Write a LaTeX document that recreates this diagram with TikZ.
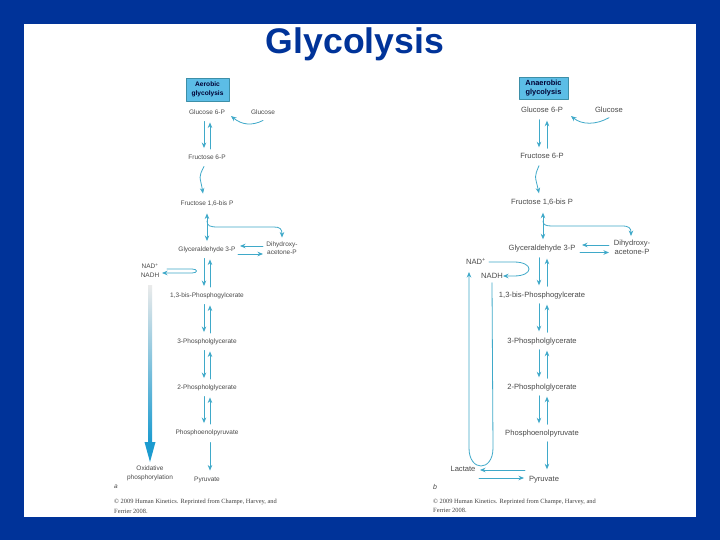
\documentclass[tikz,border=0pt]{standalone}
\usepackage{fontspec}
\setmainfont{Liberation Sans}
\newfontfamily\serifnote{Liberation Serif}
\usetikzlibrary{arrows.meta}
\definecolor{slideblue}{HTML}{003399}
\definecolor{pathblue}{HTML}{3FA9C9}
\definecolor{boxblue}{HTML}{5CBDE6}
\definecolor{boxedge}{HTML}{3D8FA8}
\definecolor{labelgrey}{HTML}{4A4A4A}
\definecolor{bigblue}{HTML}{1C9BCF}
\tikzset{
  lbla/.style={inner sep=0pt,text=labelgrey,align=center,text height=5pt,text depth=1.5pt,font=\fontsize{6.5}{8.5}\selectfont},
  lblb/.style={inner sep=0pt,text=labelgrey,align=center,text height=5.5pt,text depth=1.5pt,font=\fontsize{7.6}{9}\selectfont},
  pathbox/.style={draw=boxedge,fill=boxblue,line width=0.7pt,inner sep=0pt,align=center,text=black!80!blue,font=\bfseries},
  flow/.style={draw=pathblue,line width=0.8pt,-{Stealth[length=5.5pt,width=4.5pt]}},
  flowboth/.style={draw=pathblue,line width=0.8pt,{Stealth[length=5.5pt,width=4.5pt]}-{Stealth[length=5.5pt,width=4.5pt]}},
  credit/.style={inner sep=0pt,anchor=west,text=black!75,font=\serifnote\fontsize{6.4}{9.5}\selectfont,align=left}
}
\begin{document}
\begin{tikzpicture}[x=1pt,y=-1pt,line join=round,line cap=round]
\useasboundingbox (0,0) rectangle (720,540);
\fill[slideblue] (0,0) rectangle (720,540);
\fill[white] (24,24) rectangle (696,517);
\node (title) at (355,44) [inner sep=0pt,text=slideblue,font=\fontsize{35.6}{40}\selectfont\bfseries] {Glycolysis};
% left column
\node (abox) at (207.5,89.5) [pathbox,minimum width=43pt,minimum height=23pt,font=\fontsize{6.6}{8.8}\selectfont\bfseries] {Aerobic\\glycolysis};
\node (ag6p) at (207,113) [lbla] {Glucose 6-P};
\node (aglc) at (263,113) [lbla] {Glucose};
\node (af6p) at (207,158) [lbla] {Fructose 6-P};
\node (afbp) at (207,204) [lbla] {Fructose 1,6-bis P};
\node (agap) at (207,250) [lbla] {Glyceraldehyde 3-P};
\node (adhap) at (282,250) [lbla,text height=11pt] {Dihydroxy-\\acetone-P};
\node (abpg) at (207,296) [lbla] {1,3-bis-Phosphogylcerate};
\node (atpg) at (207,342) [lbla] {3-Phospholglycerate};
\node (aspg) at (207,388) [lbla] {2-Phospholglycerate};
\node (apep) at (207,433) [lbla] {Phosphoenolpyruvate};
\node (apyr) at (207,480) [lbla] {Pyruvate};
\node (anad) at (150,267) [lbla] {NAD\textsuperscript{+}};
\node (anadh) at (150,276) [lbla] {NADH};
\node (aox) at (150,474.5) [lbla,text height=11pt] {Oxidative\\phosphorylation};
\node (atag) at (116,487) [lbla,font=\fontsize{6.5}{8}\selectfont\itshape] {a};
\node (acred) at (114,506.5) [credit] {© 2009 Human Kinetics. Reprinted from Champe, Harvey, and\\Ferrier 2008.};
\foreach \p/\q in {ag6p/af6p,agap/abpg,abpg/atpg,atpg/aspg,aspg/apep}{
  \draw[flow] ([xshift=-3,yshift=-5]\p.south) -- ([xshift=-3,yshift=6.5]\q.north);
  \draw[flow] ([xshift=3,yshift=5.5]\q.north) -- ([xshift=3,yshift=-6]\p.south);
}
\draw[flow] ([xshift=3,yshift=-6]apep.south) -- ([xshift=3,yshift=6]apyr.north);
\draw[flow] ([xshift=-3,yshift=-5]af6p.south) .. controls +(-6,12) and +(-3,-18) .. ([xshift=-4,yshift=7]afbp.north);
\draw[flowboth] ([yshift=-6]afbp.south) -- ([yshift=5.5]agap.north);
\coordinate (abranch) at (207,221);
\draw[flow] (abranch) .. controls (207,226) and (210,227) .. (218,227) -- (274,227) .. controls (280,227) and (282,229) .. ([yshift=6]adhap.north);
\draw[flow] ([yshift=-4]aglc.south) .. controls (252,126) and (242,125) .. (231,116);
\draw[flow] (263,246) -- (240,246);
\draw[flow] (238,254) -- (263,254);
\draw[flow] (167,269) -- (192,269) .. controls (198,269) and (198,273) .. (192,273) -- (162,273);
\coordinate (abigtop) at (150,285);
\coordinate (abigneck) at (150,442);
\coordinate (abigtip) at ([yshift=6]aox.north);
\shade[top color=black!8,bottom color=bigblue] ([xshift=-2]abigtop) rectangle ([xshift=2]abigneck);
\fill[bigblue] ([xshift=-5.5]abigneck) -- ([xshift=5.5]abigneck) -- (abigtip) -- cycle;
% right column
\node (bbox) at (543.5,88) [pathbox,minimum width=49pt,minimum height=22pt,font=\fontsize{7.4}{9}\selectfont\bfseries] {Anaerobic\\glycolysis};
\node (bg6p) at (542,111) [lblb] {Glucose 6-P};
\node (bglc) at (609,111) [lblb] {Glucose};
\node (bf6p) at (542,157) [lblb] {Fructose 6-P};
\node (bfbp) at (542,203) [lblb] {Fructose 1,6-bis P};
\node (bgap) at (542,249) [lblb] {Glyceraldehyde 3-P};
\node (bdhap) at (632,249) [lblb,text height=12pt] {Dihydroxy-\\acetone-P};
\node (bbpg) at (542,295) [lblb] {1,3-bis-Phosphogylcerate};
\node (btpg) at (542,341) [lblb] {3-Phospholglycerate};
\node (bspg) at (542,387) [lblb] {2-Phospholglycerate};
\node (bpep) at (542,433) [lblb] {Phosphoenolpyruvate};
\node (bpyr) at (544,479) [lblb] {Pyruvate};
\node (blac) at (463,469) [lblb] {Lactate};
\node (bnad) at (476,262) [lblb] {NAD\textsuperscript{+}};
\node (bnadh) at (492,276) [lblb] {NADH};
\node (btag) at (435,487) [lblb,font=\fontsize{7}{8}\selectfont\itshape] {b};
\node (bcred) at (433,506) [credit] {© 2009 Human Kinetics. Reprinted from Champe, Harvey, and\\Ferrier 2008.};
\foreach \p/\q in {bg6p/bf6p,bgap/bbpg,bbpg/btpg,btpg/bspg,bspg/bpep}{
  \draw[flow] ([xshift=-3,yshift=-5]\p.south) -- ([xshift=-3,yshift=6]\q.north);
  \draw[flow] ([xshift=5,yshift=5]\q.north) -- ([xshift=5,yshift=-6]\p.south);
}
\draw[flow] ([xshift=5,yshift=-5]bpep.south) -- ([xshift=3,yshift=6]bpyr.north);
\draw[flow] ([xshift=-3,yshift=-5]bf6p.south) .. controls +(-5,12) and +(-4,-18) .. ([xshift=-3,yshift=6]bfbp.north);
\draw[flowboth] ([xshift=1,yshift=-6]bfbp.south) -- ([xshift=1,yshift=6]bgap.north);
\coordinate (bbranch) at (543,221);
\draw[flow] (bbranch) .. controls (543,225) and (546,226) .. (552,226) -- (622,226) .. controls (629,226) and (631,228) .. ([xshift=-1,yshift=6]bdhap.north);
\draw[flow] ([yshift=-3]bglc.south) .. controls (596,125) and (582,125) .. (571,116);
\draw[flow] (609,245) -- (582,245);
\draw[flow] (580,252.5) -- (609,252.5);
\draw[flow] ([xshift=3]bnad.east) -- (514,262) .. controls (534,262) and (534,276) .. (514,276) -- (bnadh.east);
\draw[flow] ([yshift=-3]bnadh.south) -- (493,448) .. controls (493,472) and (469,472) .. (469,448) -- (469,272);
\draw[flow] (525,470) -- (480,470);
\draw[flow] (479,478) -- (524,478);
\end{tikzpicture}
\end{document}
